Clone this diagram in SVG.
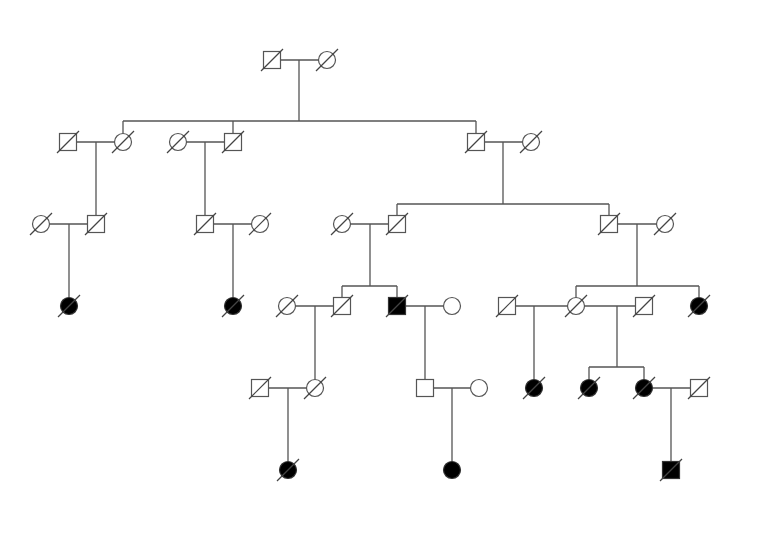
<svg xmlns="http://www.w3.org/2000/svg" xmlns:xlink="http://www.w3.org/1999/xlink" width="761" height="540" viewBox="0 0 761 540">
<style>
.sym{fill:#fff;stroke:#555;stroke-width:1.2}
.aff{fill:#000;stroke:#333;stroke-width:1.2}
.dec{stroke:#444;stroke-width:1.2;fill:none}
.ln{stroke:#555;stroke-width:1.3;fill:none}
</style>
<defs>
<rect id="sq" x="-8.5" y="-8.5" width="17" height="17"/>
<circle id="ci" r="8.5"/>
<line id="sl" x1="-11" y1="11" x2="11" y2="-11"/>
</defs>
<rect width="761" height="540" fill="#fff"/>
<g id="connectors" class="ln">
<path d="M281,60H318.5M299,60V121M123,121H476M123,121V133.5M233,121V133.5M476,121V133.5"/>
<path d="M76.5,142H114.5M96,142V215.5"/>
<path d="M186.5,142H224.5M205,142V215.5"/>
<path d="M484.5,142H522.5M503,142V204M397,204H609M397,204V215.5M609,204V215.5"/>
<path d="M49.5,224H87.5M69,224V297.5"/>
<path d="M213.5,224H251.5M233,224V297.5"/>
<path d="M350.5,224H388.5M370,224V286M342,286H397M342,286V297.5M397,286V297.5"/>
<path d="M617.5,224H656.5M637,224V286M576,286H699M576,286V297.5M699,286V297.5"/>
<path d="M295.5,306H333.5M315,306V379.5"/>
<path d="M405.5,306H443.5M425,306V379.5"/>
<path d="M515.5,306H567.5M534,306V379.5"/>
<path d="M584.5,306H635.5M617,306V367M589,367H644M589,367V379.5M644,367V379.5"/>
<path d="M268.5,388H306.5M288,388V461.5"/>
<path d="M433.5,388H470.5M452,388V461.5"/>
<path d="M652.5,388H690.5M671,388V461.5"/>
</g>
<g id="I1" transform="translate(272,60)"><use href="#sq" class="sym"/><use href="#sl" class="dec"/></g>
<g id="I2" transform="translate(327,60)"><use href="#ci" class="sym"/><use href="#sl" class="dec"/></g>
<g id="II1" transform="translate(68,142)"><use href="#sq" class="sym"/><use href="#sl" class="dec"/></g>
<g id="II2" transform="translate(123,142)"><use href="#ci" class="sym"/><use href="#sl" class="dec"/></g>
<g id="II3" transform="translate(178,142)"><use href="#ci" class="sym"/><use href="#sl" class="dec"/></g>
<g id="II4" transform="translate(233,142)"><use href="#sq" class="sym"/><use href="#sl" class="dec"/></g>
<g id="II5" transform="translate(476,142)"><use href="#sq" class="sym"/><use href="#sl" class="dec"/></g>
<g id="II6" transform="translate(531,142)"><use href="#ci" class="sym"/><use href="#sl" class="dec"/></g>
<g id="III1" transform="translate(41,224)"><use href="#ci" class="sym"/><use href="#sl" class="dec"/></g>
<g id="III2" transform="translate(96,224)"><use href="#sq" class="sym"/><use href="#sl" class="dec"/></g>
<g id="III3" transform="translate(205,224)"><use href="#sq" class="sym"/><use href="#sl" class="dec"/></g>
<g id="III4" transform="translate(260,224)"><use href="#ci" class="sym"/><use href="#sl" class="dec"/></g>
<g id="III5" transform="translate(342,224)"><use href="#ci" class="sym"/><use href="#sl" class="dec"/></g>
<g id="III6" transform="translate(397,224)"><use href="#sq" class="sym"/><use href="#sl" class="dec"/></g>
<g id="III7" transform="translate(609,224)"><use href="#sq" class="sym"/><use href="#sl" class="dec"/></g>
<g id="III8" transform="translate(665,224)"><use href="#ci" class="sym"/><use href="#sl" class="dec"/></g>
<g id="IV1" transform="translate(69,306)"><use href="#ci" class="aff"/><use href="#sl" class="dec"/></g>
<g id="IV2" transform="translate(233,306)"><use href="#ci" class="aff"/><use href="#sl" class="dec"/></g>
<g id="IV3" transform="translate(287,306)"><use href="#ci" class="sym"/><use href="#sl" class="dec"/></g>
<g id="IV4" transform="translate(342,306)"><use href="#sq" class="sym"/><use href="#sl" class="dec"/></g>
<g id="IV5" transform="translate(397,306)"><use href="#sq" class="aff"/><use href="#sl" class="dec"/></g>
<g id="IV6" transform="translate(452,306)"><use href="#ci" class="sym"/></g>
<g id="IV7" transform="translate(507,306)"><use href="#sq" class="sym"/><use href="#sl" class="dec"/></g>
<g id="IV8" transform="translate(576,306)"><use href="#ci" class="sym"/><use href="#sl" class="dec"/></g>
<g id="IV9" transform="translate(644,306)"><use href="#sq" class="sym"/><use href="#sl" class="dec"/></g>
<g id="IV10" transform="translate(699,306)"><use href="#ci" class="aff"/><use href="#sl" class="dec"/></g>
<g id="V1" transform="translate(260,388)"><use href="#sq" class="sym"/><use href="#sl" class="dec"/></g>
<g id="V2" transform="translate(315,388)"><use href="#ci" class="sym"/><use href="#sl" class="dec"/></g>
<g id="V3" transform="translate(425,388)"><use href="#sq" class="sym"/></g>
<g id="V4" transform="translate(479,388)"><use href="#ci" class="sym"/></g>
<g id="V5" transform="translate(534,388)"><use href="#ci" class="aff"/><use href="#sl" class="dec"/></g>
<g id="V6" transform="translate(589,388)"><use href="#ci" class="aff"/><use href="#sl" class="dec"/></g>
<g id="V7" transform="translate(644,388)"><use href="#ci" class="aff"/><use href="#sl" class="dec"/></g>
<g id="V8" transform="translate(699,388)"><use href="#sq" class="sym"/><use href="#sl" class="dec"/></g>
<g id="VI1" transform="translate(288,470)"><use href="#ci" class="aff"/><use href="#sl" class="dec"/></g>
<g id="VI2" transform="translate(452,470)"><use href="#ci" class="aff"/></g>
<g id="VI3" transform="translate(671,470)"><use href="#sq" class="aff"/><use href="#sl" class="dec"/></g>
</svg>
